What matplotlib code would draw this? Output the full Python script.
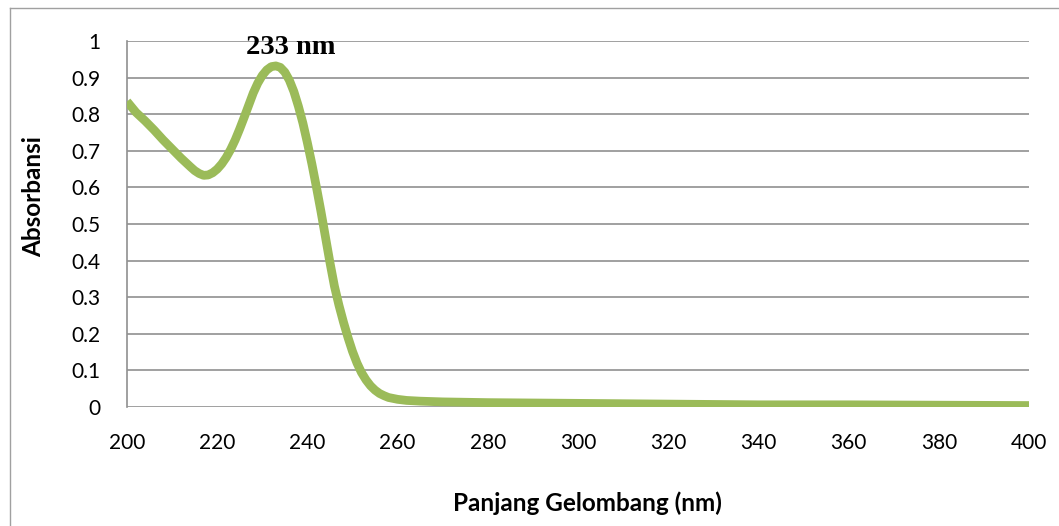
import numpy as np
import matplotlib
matplotlib.use('Agg')
import matplotlib.pyplot as plt
from matplotlib.lines import Line2D

# UV spectrum: wavelength (nm) vs absorbance
wavelength = [200, 202, 204, 206, 208, 210, 212, 214, 215, 216, 217, 218, 219,
              220, 221, 222, 223, 224, 225, 226, 227, 228, 229, 230, 231, 232,
              233, 234, 235, 236, 237, 238, 239, 240, 241, 242, 243, 244, 245,
              246, 247, 248, 249, 250, 251, 252, 253, 254, 255, 256, 257, 258,
              260, 262, 265, 270, 280, 300, 320, 340, 360, 380, 400]
absorbance = [0.835, 0.805, 0.782, 0.757, 0.730, 0.705, 0.680, 0.657, 0.646,
              0.638, 0.633, 0.634, 0.640, 0.650, 0.664, 0.682, 0.704, 0.730,
              0.760, 0.792, 0.825, 0.858, 0.885, 0.906, 0.921, 0.930, 0.932,
              0.928, 0.915, 0.893, 0.862, 0.822, 0.776, 0.722, 0.664, 0.601,
              0.535, 0.465, 0.395, 0.330, 0.278, 0.232, 0.190, 0.152, 0.120,
              0.094, 0.074, 0.058, 0.046, 0.037, 0.031, 0.026, 0.021, 0.018,
              0.016, 0.014, 0.012, 0.010, 0.008, 0.006, 0.006, 0.005, 0.004]

peak_label = '233 nm'

x_ticks = list(range(200, 401, 20))
y_ticks = [0, 0.1, 0.2, 0.3, 0.4, 0.5, 0.6, 0.7, 0.8, 0.9, 1]
y_tick_labels = ['0', '0.1', '0.2', '0.3', '0.4', '0.5', '0.6', '0.7', '0.8', '0.9', '1']

grid_col = '#909090'
line_col = '#9BBB59'

fig = plt.figure(figsize=(10.59, 5.26), dpi=100)
ax = fig.add_axes([0.1199, 0.2262, 0.8518, 0.6958])

for yv in y_ticks:
    ax.axhline(yv, color=grid_col, lw=1.2, zorder=1)

ax.plot(wavelength, absorbance, color=line_col, lw=6.3,
        solid_capstyle='butt', solid_joinstyle='round', zorder=3)

ax.set_xlim(200, 400)
ax.set_ylim(0, 1)
ax.set_xticks(x_ticks)
ax.set_yticks(y_ticks)
ax.set_yticklabels(y_tick_labels)

for s in ['top', 'right', 'bottom']:
    ax.spines[s].set_visible(False)
ax.spines['left'].set_color(grid_col)
ax.spines['left'].set_linewidth(1.2)
ax.tick_params(length=0, labelsize=15, pad=19, colors='black')
for lab in ax.get_xticklabels() + ax.get_yticklabels():
    lab.set_family('Lato')

# axis titles
fig.text(587 / 1059, 1 - 503 / 526, 'Panjang Gelombang (nm)', family='Lato',
         fontweight='bold', fontsize=17.5, ha='center', va='center')
fig.text(34 / 1059, 1 - 197 / 526, 'Absorbansi', family='Lato',
         fontweight='bold', fontsize=17.5, ha='center', va='center',
         rotation=90)

# peak annotation
ax.text(236.4, 0.9636, peak_label, family='Liberation Serif',
        fontweight='bold', fontsize=20.5, ha='center', va='baseline', zorder=4)

# outer chart-area border (left and top edges)
fig.add_artist(Line2D([0.0099, 0.0099], [0, 0.985], transform=fig.transFigure,
                      color='#a0a0a0', lw=1.0))
fig.add_artist(Line2D([0.0099, 1], [0.985, 0.985], transform=fig.transFigure,
                      color='#a0a0a0', lw=1.0))

fig.savefig('out.png', dpi=100)
